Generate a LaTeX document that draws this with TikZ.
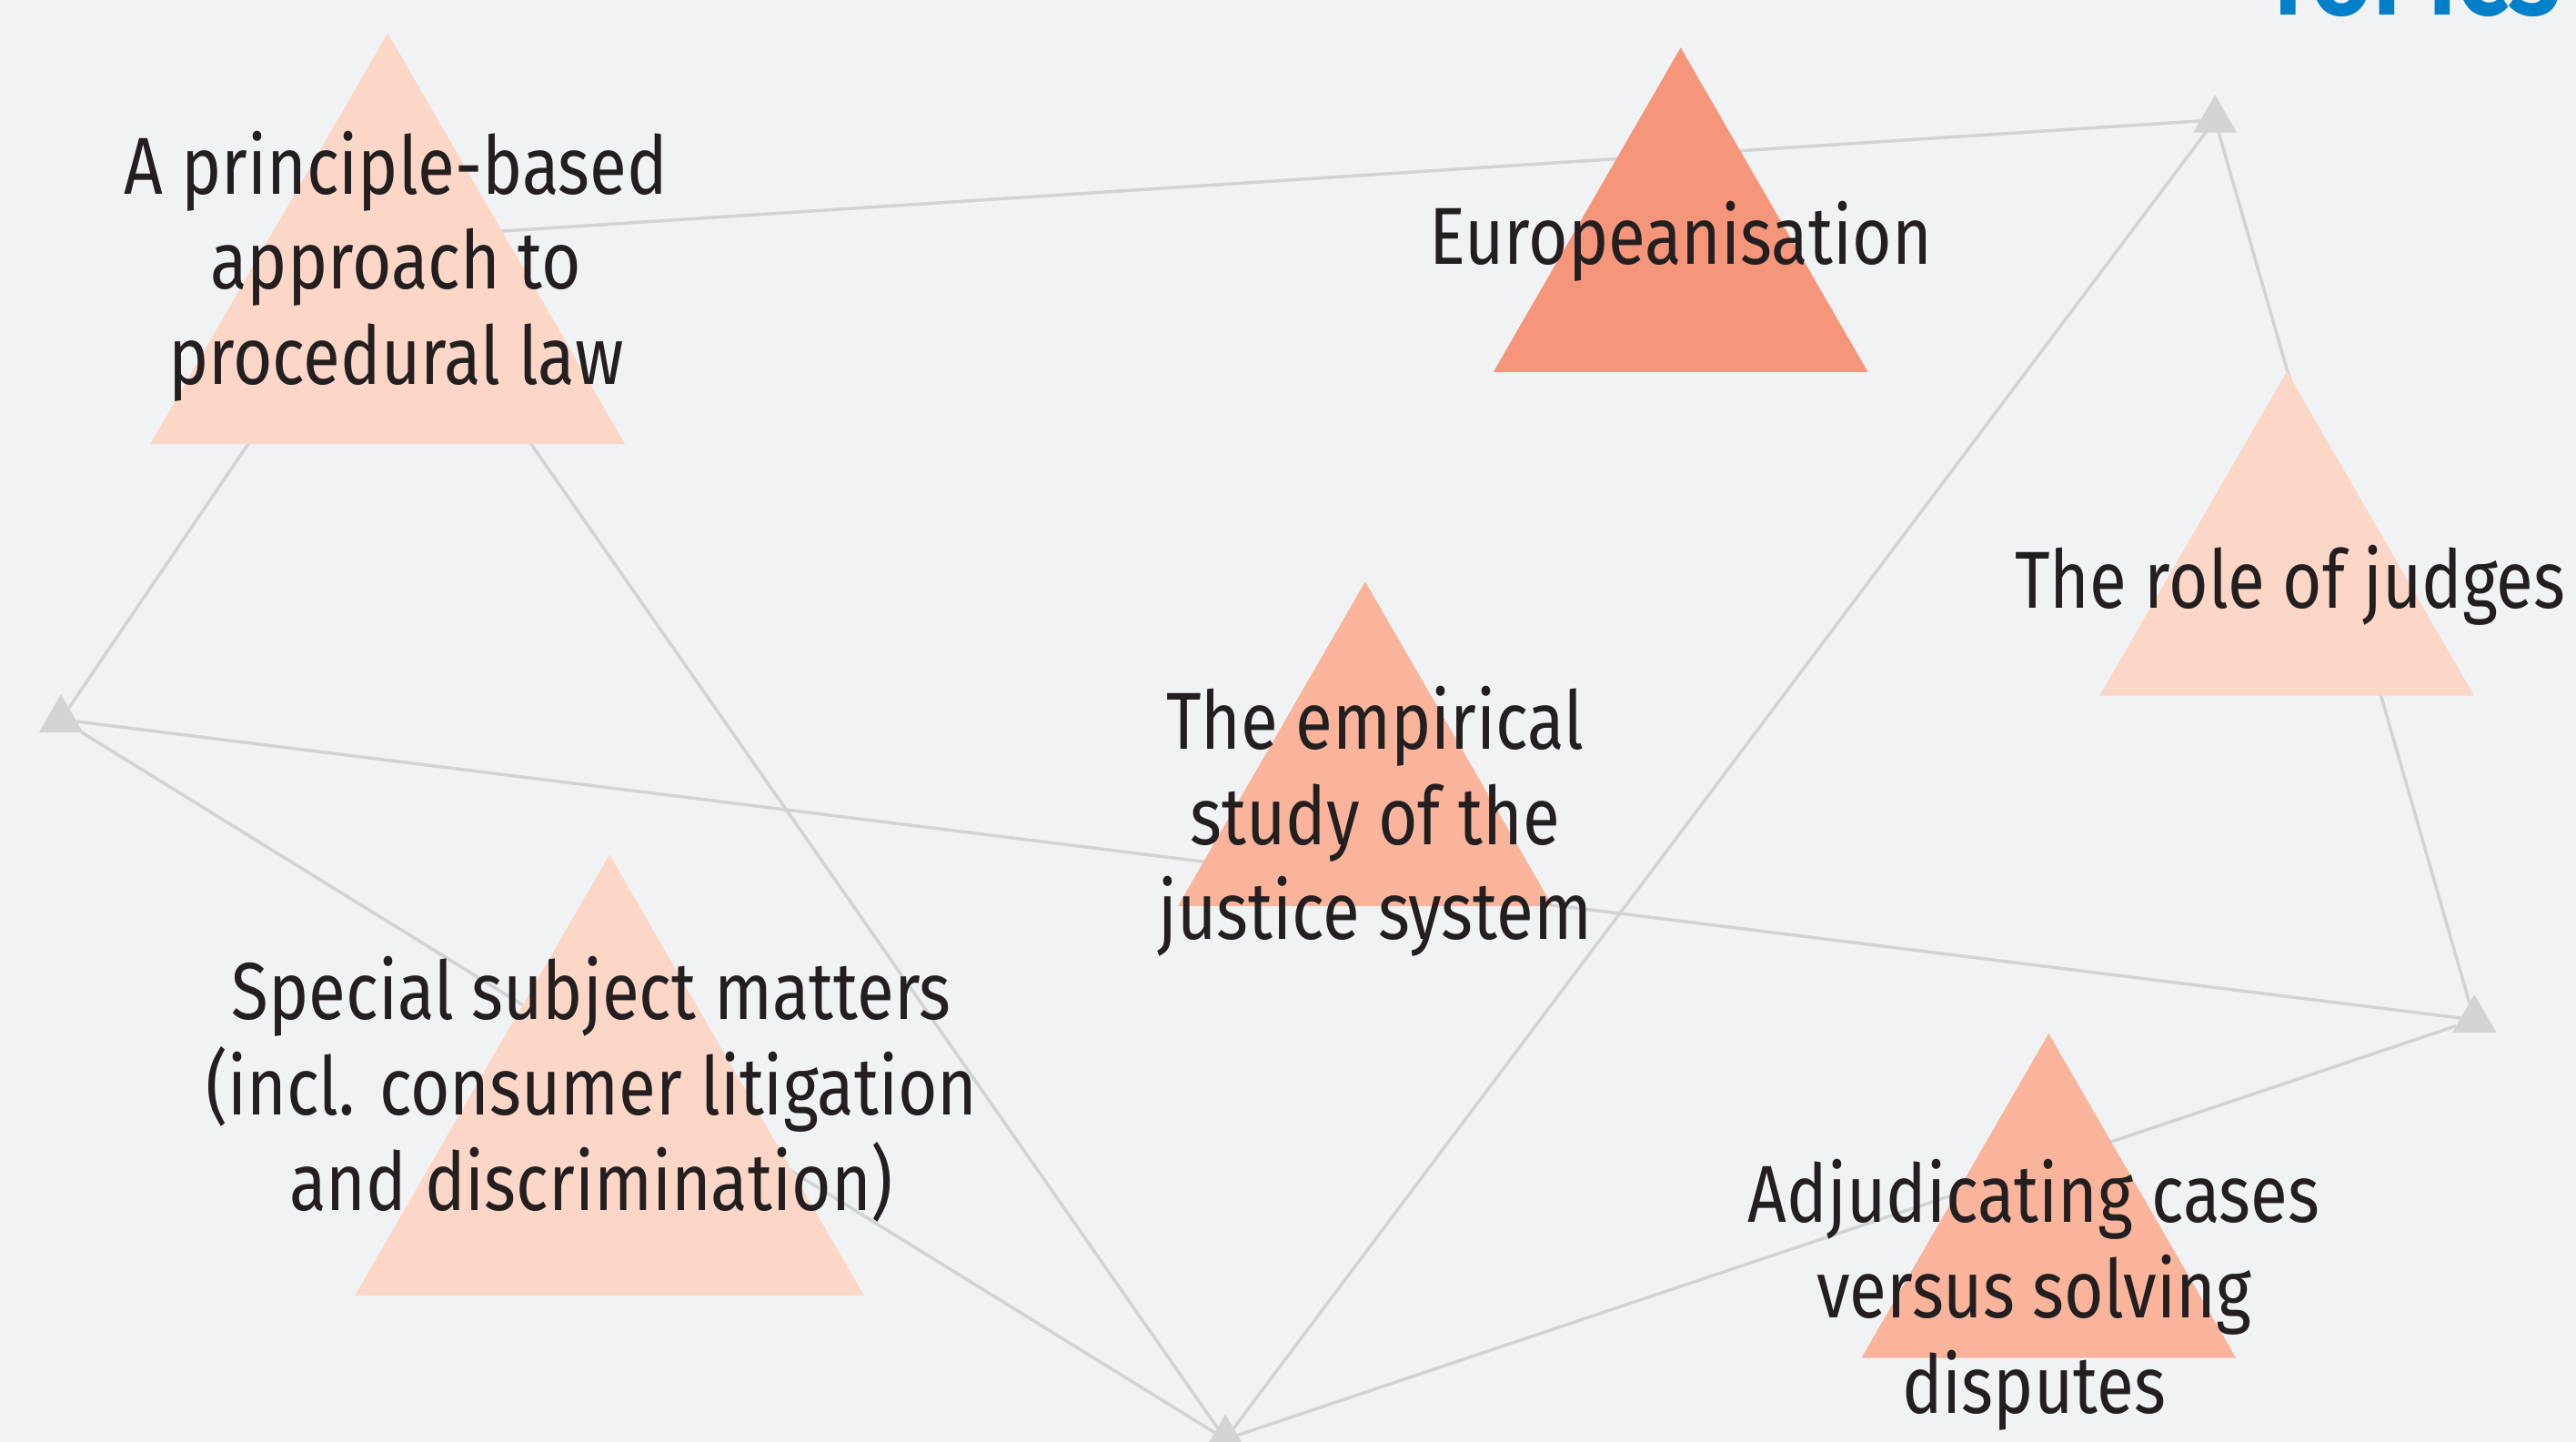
\documentclass[tikz,border=0pt]{standalone}
\usepackage{fontspec}
\setmainfont[FakeStretch=0.84]{Fira Sans}
\usetikzlibrary{shapes.geometric, calc, backgrounds}

\definecolor{paper}{HTML}{F1F2F4}
\definecolor{peachL}{HTML}{FCD7C8}
\definecolor{peachM}{HTML}{F9B49B}
\definecolor{peachD}{HTML}{F5957A}
\definecolor{hubgray}{HTML}{D2D3D5}
\definecolor{ink}{HTML}{231F20}
\definecolor{topicblue}{HTML}{0080C8}

\begin{document}
\begin{tikzpicture}[x=0.02cm, y=-0.02cm,
	topic/.style={regular polygon, regular polygon sides=3, inner sep=0pt, outer sep=0pt, draw=none},
	hub/.style={topic, fill=hubgray, minimum size=0.614cm},
	caption/.style={align=center, text=ink, inner sep=0pt, font=\fontsize{28}{33}\selectfont},
	link/.style={draw=hubgray, line width=1.1pt}]

	\useasboundingbox (0,0) rectangle (1568,877.5);

	\def \sizeS {5.266cm} % circumcircle of the usual triangle
	\def \sizeM {6.674cm}
	\def \sizeL {7.159cm}

	% topic triangles
	\node[topic, fill=peachL, minimum size=\sizeM] (principle) at (236,186.9) {};
	\node[topic, fill=peachD, minimum size=\sizeS] (europe) at (1023,160.6) {};
	\node[topic, fill=peachL, minimum size=\sizeS] (judges) at (1392,357.6) {};
	\node[topic, fill=peachM, minimum size=\sizeS] (empirical) at (831,485.6) {};
	\node[topic, fill=peachL, minimum size=\sizeL] (special) at (371,699) {};
	\node[topic, fill=peachM, minimum size=\sizeS] (adjudicating) at (1247,760.6) {};

	% grey hubs
	\node[hub] (hubW) at (37.1,437.9) {};
	\node[hub] (hubN) at (1348.3,73) {};
	\node[hub] (hubE) at (1506.1,620.6) {};
	\node[hub] (hubS) at (745.9,875.9) {};

	\node[caption] (principle text) at (241,162) {A principle-based\\approach to\\procedural law};
	\node[caption] (europe text) at (1023,147) {Europeanisation};
	\node[caption] (judges text) at (1394,356) {The role of judges};
	\node[caption] (empirical text) at (837,500) {The empirical\\study of the\\justice system};
	\node[caption] (special text) at (360,663) {Special subject matters\\(incl. consumer litigation\\and discrimination)};
	\node[caption] (adjudicating text) at (1238,788) {Adjudicating cases\\versus solving\\disputes};

	\node[anchor=base east, inner sep=0pt, text=topicblue, font=\fontsize{38}{38}\selectfont\bfseries] (title) at (1559,8.9) {TOPICS};

	\begin{pgfonlayer}{background}
		\fill[paper] (0,0) rectangle (1568,877.5);
		\draw[link] (hubW) -- ($(principle)!.25!(principle.corner 1)$);
		\draw[link] (hubN) -- ($(principle)!.25!(principle.corner 1)$);
		\draw[link] (hubS) -- ($(principle)!.25!(principle.corner 1)$);
		\draw[link] (hubW) -- (hubE);
		\draw[link] (hubW) -- (hubS);
		\draw[link] (hubS) -- (hubN);
		\draw[link] (hubS) -- (hubE);
		\draw[link] (hubN) -- (hubE);
	\end{pgfonlayer}

\end{tikzpicture}
\end{document}
